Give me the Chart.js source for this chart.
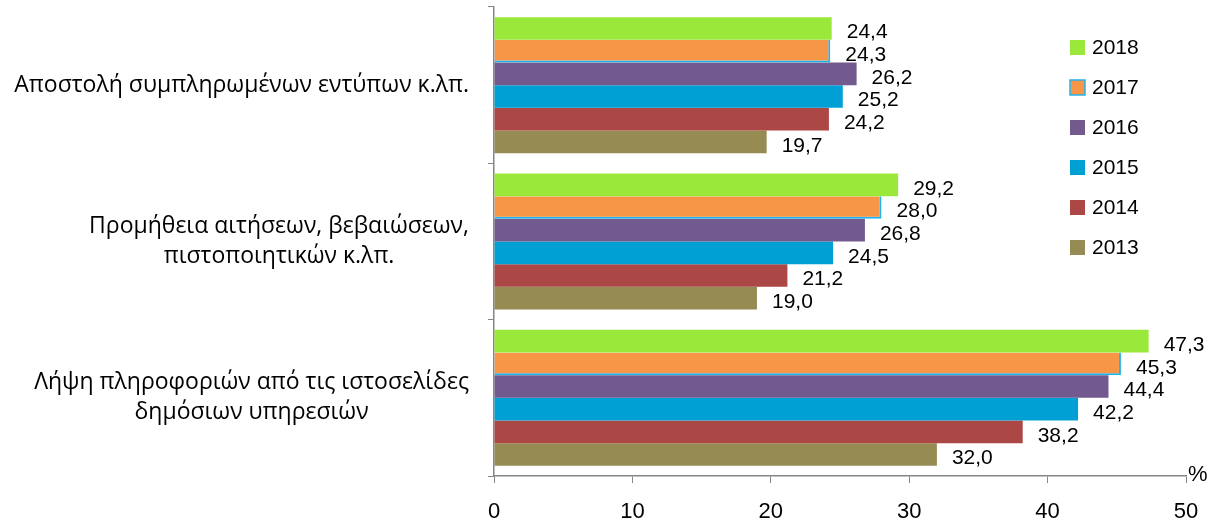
<!DOCTYPE html>
<html>
<head>
<meta charset="utf-8">
<script src="https://cdn.jsdelivr.net/npm/chart.js@4"></script>
<style>
  html, body { margin: 0; padding: 0; background: #fff; }
  #wrap { width: 1208px; height: 520px; position: relative; }
</style>
</head>
<body>
<div id="wrap"><canvas id="chart"></canvas></div>
<script>
// categories (each entry = lines of the label)
const categories = [
    ['Αποστολή συμπληρωμένων εντύπων κ.λπ.'],
    ['Προμήθεια αιτήσεων, βεβαιώσεων,', 'πιστοποιητικών κ.λπ.'],
    ['Λήψη πληροφοριών από τις ιστοσελίδες', 'δημόσιων υπηρεσιών']
];
const years = ['2018', '2017', '2016', '2015', '2014', '2013'];
const v2018 = [24.4, 29.2, 47.3];
const v2017 = [24.3, 28.0, 45.3];
const v2016 = [26.2, 26.8, 44.4];
const v2015 = [25.2, 24.5, 42.2];
const v2014 = [24.2, 21.2, 38.2];
const v2013 = [19.7, 19.0, 32.0];
const xTicks = [0, 10, 20, 30, 40, 50];

const colors = ['#9ae93a', '#f79646', '#735a8e', '#009fd4', '#ab4745', '#968b53'];
const series = [v2018, v2017, v2016, v2015, v2014, v2013];

const NUM_FONT = '"Liberation Sans", sans-serif';
const TXT_FONT = '"Open Sans", "Noto Sans", sans-serif';

// value labels, category labels, legend and the "%" sign
const extras = {
    id: 'extras',
    afterDatasetsDraw(chart) {
        const ctx = chart.ctx;
        const area = chart.chartArea;
        ctx.save();

        // bar value labels
        ctx.font = '21px ' + NUM_FONT;
        ctx.fillStyle = '#000';
        ctx.textAlign = 'left';
        ctx.textBaseline = 'middle';
        chart.data.datasets.forEach((ds, i) => {
            chart.getDatasetMeta(i).data.forEach((bar, j) => {
                ctx.fillText(ds.data[j].toFixed(1).replace('.', ','), bar.x + 15, bar.y + 4);
            });
        });

        // category labels, lines centred on each other
        const yScale = chart.scales.y;
        ctx.font = '23px ' + TXT_FONT;
        ctx.textAlign = 'center';
        categories.forEach((lines, i) => {
            const cy = yScale.getPixelForValue(i);
            const widths = lines.map(l => ctx.measureText(l).width);
            const maxW = Math.max(...widths);
            const cx = area.left - 25 - maxW / 2;
            const lh = 30;
            lines.forEach((l, k) => {
                ctx.fillText(l, cx, cy + (k - (lines.length - 1) / 2) * lh);
            });
        });

        // legend
        ctx.font = '21px ' + NUM_FONT;
        ctx.textAlign = 'left';
        years.forEach((y, i) => {
            const ly = 47 + i * 40;
            ctx.fillStyle = colors[i];
            ctx.fillRect(1070, ly - 7, 15, 15);
            if (i === 1) {
                ctx.strokeStyle = '#1fb4f0';
                ctx.lineWidth = 1.5;
                ctx.strokeRect(1070, ly - 7, 15, 15);
            }
            ctx.fillStyle = '#000';
            ctx.fillText(y, 1092, ly + 1);
        });

        // unit
        ctx.font = '22px ' + NUM_FONT;
        ctx.fillText('%', area.right + 2, area.bottom - 1);
        ctx.restore();
    }
};

new Chart(document.getElementById('chart'), {
    type: 'bar',
    data: {
        labels: categories.map(c => c.join(' ')),
        datasets: years.map((y, i) => ({
            label: y,
            data: series[i],
            backgroundColor: colors[i],
            borderColor: i === 1 ? '#1fb4f0' : colors[i],
            borderWidth: i === 1 ? { top: 0, left: 0, right: 2, bottom: 2 } : 0,
            borderSkipped: false,
            barPercentage: 1,
            categoryPercentage: 0.87
        }))
    },
    options: {
        indexAxis: 'y',
        responsive: true,
        maintainAspectRatio: false,
        animation: false,
        layout: { padding: { top: 7, right: 22, left: 0, bottom: 0 } },
        plugins: { legend: { display: false }, tooltip: { enabled: false } },
        scales: {
            x: {
                min: 0, max: 50,
                afterBuildTicks: s => { s.ticks = xTicks.map(v => ({ value: v })); },
                afterFit: s => { s.height = 44; s.paddingRight = 0; },
                grid: { drawOnChartArea: false, tickLength: 7, color: '#868686' },
                border: { color: '#868686', width: 1.5 },
                ticks: { font: { size: 22, family: NUM_FONT }, color: '#000', padding: 16 }
            },
            y: {
                afterFit: s => { s.width = 494; },
                grid: { drawOnChartArea: false, tickLength: 6, offset: true, color: '#868686' },
                border: { color: '#868686', width: 1.5 },
                ticks: { display: false }
            }
        }
    },
    plugins: [extras]
});
</script>
</body>
</html>
